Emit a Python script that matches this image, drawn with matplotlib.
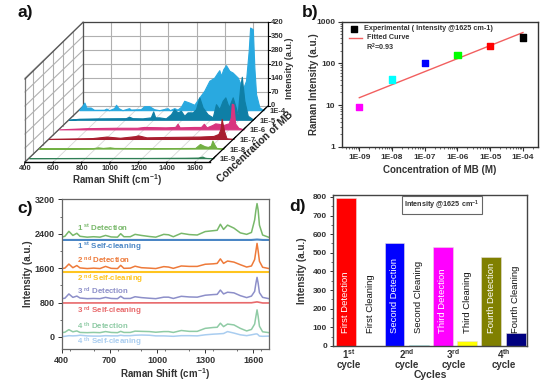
import numpy as np
import matplotlib
matplotlib.use('Agg')
import matplotlib.pyplot as plt
from matplotlib.ticker import NullFormatter, MultipleLocator, LogLocator, FixedLocator

plt.rcParams['font.family'] = ['Liberation Sans', 'DejaVu Sans']
plt.rcParams['font.weight'] = 'bold'
plt.rcParams['axes.labelweight'] = 'bold'
plt.rcParams['mathtext.fontset'] = 'custom'
plt.rcParams['mathtext.rm'] = 'Liberation Sans:bold'
plt.rcParams['mathtext.bf'] = 'Liberation Sans:bold'
plt.rcParams['mathtext.default'] = 'bf'

# panel a, one spectrum per concentration
conc_labels = ['1E-9', '1E-8', '1E-7', '1E-6', '1E-5', '1E-4']
conc_depth = [0.4, 1.4, 2.4, 3.4, 4.4, 5.4]
conc_colors = ['#2f7f55', '#72b043', '#a81e2f', '#d8357f', '#0f7fa6', '#29a9e0']
a_x = [
    [400, 800, 1200, 1500, 1590, 1610, 1621, 1635, 1650, 1700],
    [400, 780, 816, 850, 899, 930, 1200, 1500, 1534, 1565, 1590, 1610, 1621, 1635, 1650, 1700],
    [400, 700, 805, 900, 1005, 1028, 1087, 1228, 1463, 1558, 1593, 1608, 1616, 1633, 1650, 1700],
    [400, 600, 800, 950, 1000, 1150, 1220, 1235, 1250, 1350, 1400, 1420, 1440, 1480, 1500, 1530,
     1560, 1580, 1595, 1610, 1617, 1628, 1640, 1663, 1700],
    [400, 471, 612, 800, 824, 847, 918, 976, 993, 1007, 1035, 1082, 1118, 1141, 1165, 1188, 1212,
     1235, 1271, 1294, 1318, 1341, 1376, 1412, 1435, 1459, 1482, 1501, 1525, 1553, 1588, 1605,
     1617, 1635, 1659, 1694],
    [400, 424, 438, 452, 482, 506, 576, 593, 612, 647, 661, 678, 706, 753, 765, 835, 859, 894, 929,
     965, 1024, 1040, 1071, 1094, 1118, 1141, 1176, 1212, 1247, 1282, 1318, 1353, 1376, 1388, 1400,
     1416, 1435, 1459, 1482, 1518, 1553, 1576, 1595, 1605, 1624, 1635, 1647, 1671, 1700],
]
a_y = [
    [0, 1, 1, 2, 3, 6, 8, 3, 1, 0],
    [0, 2, 6, 3, 6, 3, 2, 3, 23, 12, 8, 15, 40, 20, 3, 0],
    [0, 4, 12, 6, 14, 18, 8, 10, 12, 15, 25, 50, 100, 40, 3, 0],
    [0, 6, 8, 8, 12, 10, 12, 28, 10, 12, 12, 28, 10, 22, 30, 27, 22, 27, 30, 60, 128, 125, 30, 8, 0],
    [0, 5, 7, 8, 15, 8, 7, 12, 42, 12, 12, 7, 28, 53, 37, 45, 20, 37, 37, 53, 112, 62, 28, 12, 78,
     53, 95, 112, 62, 112, 28, 162, 215, 95, 20, 3],
    [0, 22, 38, 13, 13, 2, 2, 8, 0, 10, 27, 10, 0, 10, 3, 5, 20, 20, 5, 0, 10, 0, 10, 3, 17, 47, 38,
     27, 63, 97, 147, 163, 188, 200, 172, 205, 225, 197, 188, 163, 105, 147, 297, 413, 405, 213,
     80, 13, 0],
]
a_xticks = [400, 600, 800, 1000, 1200, 1400, 1600]
a_zticks = [0, 70, 140, 210, 280, 350, 420]

# panel b
b_conc = [1e-9, 1e-8, 1e-7, 1e-6, 1e-5, 1e-4]
b_int = [9, 41, 102, 160, 265, 420]
b_colors = ['#ff00ff', '#00ffff', '#0000ff', '#00ff00', '#ff0000', '#000000']
b_fit_x = [1e-9, 1e-4]
b_fit_y = [15, 550]
b_labels = ['1E-09', '1E-08', '1E-07', '1E-06', '1E-05', '1E-04']

# panel c
c_x = [400, 420, 445, 470, 495, 515, 560, 600, 640, 675, 710, 750, 770, 790, 830, 860, 900, 950, 990,
       1040, 1070, 1100, 1150, 1200, 1250, 1300, 1350, 1375, 1395, 1415, 1440, 1480, 1520, 1560, 1590,
       1610, 1618, 1625, 1632, 1640, 1660, 1700]
det1 = [2320, 2340, 2455, 2360, 2410, 2340, 2320, 2330, 2320, 2360, 2325, 2320, 2400, 2330, 2330, 2385,
        2360, 2335, 2320, 2385, 2375, 2330, 2410, 2380, 2370, 2450, 2470, 2480, 2620, 2500, 2600, 2530,
        2420, 2385, 2430, 2720, 2950, 3100, 2950, 2600, 2370, 2315]
det2 = [1590, 1600, 1695, 1610, 1660, 1605, 1590, 1600, 1590, 1640, 1595, 1590, 1665, 1595, 1600, 1645,
        1610, 1600, 1590, 1635, 1625, 1595, 1650, 1640, 1640, 1690, 1700, 1710, 1815, 1710, 1765, 1740,
        1680, 1625, 1650, 1800, 2000, 2175, 2000, 1760, 1620, 1590]
det3 = [890, 900, 1000, 920, 950, 905, 890, 895, 890, 920, 895, 890, 945, 895, 895, 935, 915, 900, 890,
        925, 925, 895, 945, 930, 925, 970, 985, 990, 1090, 1000, 1040, 1025, 960, 915, 950, 1060, 1250,
        1385, 1250, 1030, 920, 890]
det4 = [100, 110, 170, 120, 140, 105, 100, 105, 100, 125, 105, 100, 130, 105, 105, 135, 130, 125, 110,
        125, 125, 105, 150, 130, 130, 200, 220, 225, 320, 240, 300, 280, 200, 140, 175, 300, 480, 630,
        480, 250, 120, 100]
clean4 = [10, 15, 30, 25, 30, 40, 25, 20, 20, 30, 25, 25, 40, 30, 30, 40, 45, 40, 25, 25, 20, 15, 30, 30,
          25, 50, 65, 70, 75, 80, 125, 90, 50, 30, 50, 65, 70, 70, 50, 20, 15, 20]
flat_x = [400, 1590, 1625, 1660, 1700]
clean1 = [2255, 2255, 2265, 2255, 2255]
clean2 = [1503, 1503, 1503, 1503, 1503]
clean3 = [790, 795, 815, 790, 790]

# panel d
d_names = ['First Detection', 'First Cleaning', 'Second Detection', 'Second Cleaning',
           'Third Detection', 'Third Cleaning', 'Fourth Detection', 'Fourth Cleaning']
d_vals = [795, 2, 555, 7, 530, 25, 475, 68]
d_colors = ['#ff0000', '#000000', '#0000ff', '#00cccc', '#ff00ff', '#ffff00', '#808000', '#000080']
d_tick_pos = [1.1, 3.5, 5.43, 7.5]
d_tick_labels = ['1$^{st}$\ncycle', '2$^{nd}$\ncycle', '3$^{rd}$\ncycle', '4$^{th}$\ncycle']

W, H = 554, 385
fig = plt.figure(figsize=(W / 100, H / 100), dpi=100)
bg = fig.add_axes([0, 0, 1, 1])
bg.set_xlim(0, W)
bg.set_ylim(H, 0)
bg.axis('off')


def px_axes(l, t, r, b):
    return fig.add_axes([l / W, 1 - b / H, (r - l) / W, (b - t) / H])


def proj(x, z, d):
    x = np.asarray(x, dtype=float)
    z = np.asarray(z, dtype=float)
    return 25 + (x - 400) * 0.142 + d * 10, 162 - z * 0.2 - d * 9.6


# a) pseudo 3d waterfall
DMAX = 5.8
grid = '#b0b0b0'
for v in a_xticks:
    px, py = proj([v, v], [0, 420], DMAX)
    bg.plot(px, py, color=grid, lw=0.8, zorder=1)
    px, py = proj([v, v], [0, 0], 0)
    qx, qy = proj([v, v], [0, 0], DMAX)
    bg.plot([px[0], qx[0]], [py[0], qy[0]], color='#d8d8d8', lw=0.6, zorder=1)
    bg.plot([px[0], px[0] - 0.5], [py[0], py[0] + 2.5], color='k', lw=0.7, zorder=3)
    bg.text(px[0], 169, str(v), ha='center', va='center', fontsize=5.5, color='#333333')
for v in a_zticks:
    px, py = proj([400, 1700], [v, v], DMAX)
    bg.plot(px, py, color=grid, lw=0.8, zorder=1)
    qx, qy = proj([400, 400], [v, v], 0)
    bg.plot([qx[0], px[0]], [qy[0], py[0]], color=grid, lw=0.8, zorder=1)
    bg.plot([px[1], px[1] + 2], [py[1], py[1]], color='k', lw=0.7, zorder=3)
    # the zero label sits a little above its gridline, clear of the 1E-4 label
    bg.text(px[1] + 3, py[1] - (1.2 if v == 0 else 0), str(v), ha='left', va='center', fontsize=5.5, color='#333333')
for d in conc_depth[:-1]:
    px, py = proj([400, 400], [0, 420], d + 0.4)
    bg.plot(px, py, color=grid, lw=0.8, zorder=1)
# frame
px, py = proj([400, 400], [0, 420], 0)
bg.plot(px, py, color='#777777', lw=0.9, zorder=2)
px, py = proj([400, 400], [0, 420], DMAX)
bg.plot(px, py, color='#555555', lw=0.9, zorder=2)
px, py = proj([400, 1700], [420, 420], DMAX)
bg.plot(px, py, color='#444444', lw=0.9, zorder=2)
px, py = proj([1700, 1700], [0, 420], DMAX)
bg.plot(px, py, color='k', lw=0.9, zorder=2)
px, py = proj([400, 1700], [0, 0], 0)
bg.plot(px, py, color='k', lw=1, zorder=20)
bg.plot([25, 83], [162, 106.3], color='#555555', lw=0.9, zorder=2)
bg.plot([209.6, 267.6], [162, 106.3], color='k', lw=0.9, zorder=20)
bg.plot([25, 83], [79, 22.3], color='#555555', lw=0.9, zorder=2)

for i in range(5, -1, -1):
    px, py = proj(a_x[i], a_y[i], conc_depth[i])
    _, base = proj([400], [0], conc_depth[i])
    bg.fill_between(px, py, base[0], color=conc_colors[i], lw=0.8, zorder=10 + 5 - i)
    ex, ey = proj([1700], [0], conc_depth[i])
    bg.text(ex[0] + 5.5, ey[0] + 1.5, conc_labels[i], ha='left', va='center', fontsize=5.5, color='#333333')
    bg.plot([ex[0], ex[0] + 2], [ey[0], ey[0] - 2], color='k', lw=0.7, zorder=20)

bg.text(117, 180, 'Raman Shift (cm$^{-1}$)', ha='center', va='center', fontsize=7, color='#333333')
bg.text(255, 147, 'Concentration of MB', ha='center', va='center', fontsize=7.3, rotation=43, color='#222222')
bg.text(290, 68, 'Intensity (a.u.)', ha='center', va='center', fontsize=6.5, rotation=90, color='#333333')
bg.text(17, 13, 'a)', ha='left', va='center', fontsize=12.5, color='#111111')
bg.text(302, 13, 'b)', ha='left', va='center', fontsize=12.5, color='#111111')
bg.text(17, 209, 'c)', ha='left', va='center', fontsize=12.5, color='#111111')
bg.text(289, 207, 'd)', ha='left', va='center', fontsize=12.5, color='#111111')

# b) calibration
ax = px_axes(342.3, 21.7, 538, 146.7)
ax.set_xscale('log')
ax.set_yscale('log')
ax.set_xlim(10 ** -9.52, 10 ** -3.54)
ax.set_ylim(1, 1000)
ax.plot(b_fit_x, b_fit_y, color='#f25f5f', lw=1)
ax.scatter(b_conc, b_int, c=b_colors, marker='s', s=20, zorder=3)
ax.xaxis.set_major_locator(FixedLocator(b_conc))
ax.set_xticklabels(b_labels)
ax.xaxis.set_minor_locator(LogLocator(base=10, subs=np.arange(2, 10), numticks=12))
ax.xaxis.set_minor_formatter(NullFormatter())
ax.yaxis.set_minor_formatter(NullFormatter())
ax.set_yticks([1, 10, 100, 1000])
ax.set_yticklabels(['1', '10', '100', '1000'])
ax.tick_params(which='major', labelsize=6, length=3, width=0.8, pad=2, colors='#333333')
ax.tick_params(which='minor', length=1.5, width=0.5, colors='#333333')
ax.set_xlabel('Concentration of MB (M)', fontsize=7, labelpad=3, color='#333333')
ax.set_ylabel('Raman Intensity (a.u.)', fontsize=7, labelpad=-2, color='#333333')
for s in ax.spines.values():
    s.set_linewidth(1)
    s.set_color('#333333')
ax.scatter([10 ** -9.17], [10 ** 2.82], c='k', marker='s', s=14)
ax.plot([10 ** -9.315, 10 ** -8.92], [10 ** 2.61, 10 ** 2.61], color='#f25f5f', lw=1)
ax.text(10 ** -8.856, 10 ** 2.825, 'Experimental ( Intensity @1625 cm-1)', fontsize=5.2, va='center', color='#333333')
ax.text(10 ** -8.755, 10 ** 2.61, 'Fitted Curve', fontsize=5.2, va='center', color='#333333')
ax.text(10 ** -8.8, 10 ** 2.375, 'R$^2$=0.93', fontsize=5.2, va='center', color='#333333')

# c) detection / self cleaning cycles
ax = px_axes(61.7, 199.3, 269, 349)
ax.plot(c_x, det1, color='#78b86a', lw=1.1)
ax.plot(flat_x, clean1, color='#4a86c5', lw=1.5)
ax.plot(c_x, det2, color='#ee7a3a', lw=1.1)
ax.plot(flat_x, clean2, color='#ffc51f', lw=1.5)
ax.plot(c_x, det3, color='#8d8fc9', lw=1.1)
ax.plot(flat_x, clean3, color='#e8696b', lw=1.2)
ax.plot(c_x, det4, color='#8fcba5', lw=1.1)
ax.plot(c_x, clean4, color='#a9cdf0', lw=1.1)
ax.set_xlim(400, 1700)
ax.set_ylim(-280, 3200)
ax.set_xticks([400, 700, 1000, 1300, 1600])
ax.xaxis.set_minor_locator(MultipleLocator(150))
ax.set_yticks([0, 800, 1600, 2400, 3200])
ax.yaxis.set_minor_locator(MultipleLocator(400))
ax.tick_params(which='major', labelsize=6.5, length=3, width=0.7, pad=2, colors='#333333')
ax.tick_params(which='minor', length=1.5, width=0.5, colors='#333333')
ax.set_xlabel('Raman Shift (cm$^{-1}$)', fontsize=7, labelpad=1, color='#333333')
ax.set_ylabel('Intensity (a.u.)', fontsize=7, labelpad=1, color='#333333')
for s in ax.spines.values():
    s.set_linewidth(0.9)
    s.set_color('#666666')
c_labels = [('1 $^{st}$ Detection', 2540, '#78b86a'), ('1 $^{st}$ Self-cleaning', 2090, '#4a86c5'),
            ('2 $^{nd}$ Detection', 1770, '#ee7a3a'), ('2 $^{nd}$ Self-cleaning', 1330, '#ffc51f'),
            ('3 $^{rd}$ Detection', 1050, '#8d8fc9'), ('3 $^{rd}$ Self-cleaning', 600, '#e8696b'),
            ('4 $^{th}$ Detection', 245, '#8fcba5'), ('4 $^{th}$ Self-cleaning', -135, '#a9cdf0')]
for lab, y, col in c_labels:
    ax.text(498, y, lab, fontsize=5.7, color=col, va='center', ha='left')

# d) bars per cycle
ax = px_axes(333.3, 195, 526.7, 346)
pos = np.arange(1, 9)
ax.bar(pos, d_vals, width=0.82, color=d_colors, edgecolor='#e8e0e0', lw=0.4)
ax.set_xlim(0.477, 8.455)
ax.set_ylim(0, 810)
ax.set_yticks(np.arange(0, 801, 100))
ax.yaxis.set_minor_locator(MultipleLocator(50))
ax.set_xticks(d_tick_pos)
ax.set_xticklabels(d_tick_labels, linespacing=0.85)
ax.tick_params(axis='x', length=0, labelsize=7, pad=1, colors='#333333')
ax.tick_params(axis='y', which='major', labelsize=6, length=2.5, width=0.7, pad=2, colors='#333333')
ax.tick_params(axis='y', which='minor', length=1.5, width=0.5, colors='#333333')
ax.set_xlabel('Cycles', fontsize=7.5, labelpad=0, color='#333333')
ax.set_ylabel('Intensity (a.u.)', fontsize=7, color='#333333')
ax.yaxis.set_label_coords(-0.135, 0.5)
for s in ax.spines.values():
    s.set_linewidth(1)
    s.set_color('#444444')
for i, name in enumerate(d_names):
    col = 'white' if i % 2 == 0 else '#111111'
    ax.text(pos[i], 72, name, rotation=90, ha='center', va='bottom', fontsize=6.8, color=col, fontweight='normal')
ax.text(4.96, 755, 'Intensity @1625 cm$^{-1}$', fontsize=5.2, ha='center', va='center', color='#333333',
        bbox=dict(boxstyle='square,pad=0.35', fc='white', ec='#666666', lw=0.8))

fig.savefig('out.png', dpi=100)
